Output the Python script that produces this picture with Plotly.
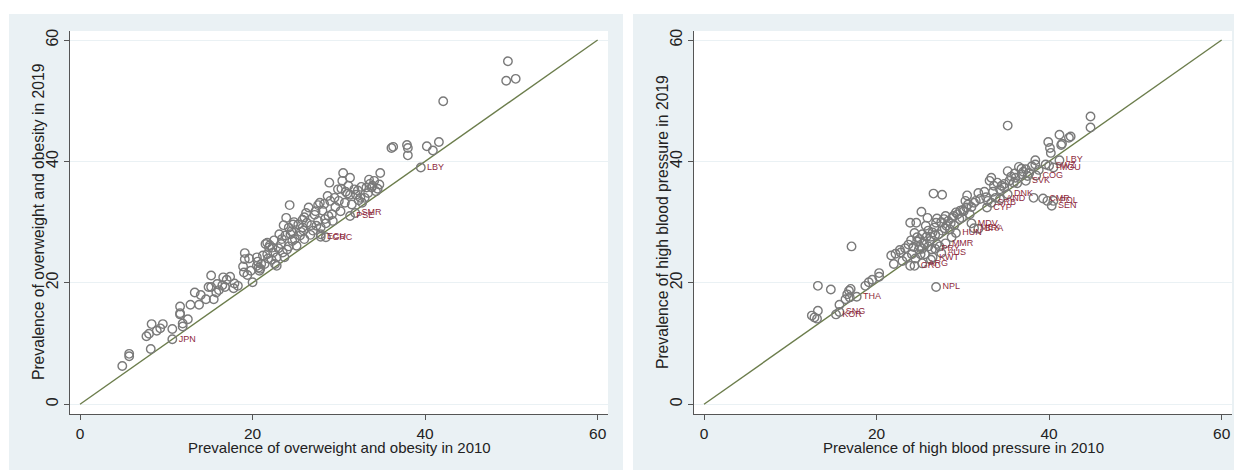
import plotly.graph_objects as go

# ---------------- data: left panel (overweight & obesity) ----------------
ow_2010 = [4.9, 5.7, 5.7, 7.7, 8.0, 8.3, 8.2, 8.9, 9.3, 9.6, 10.7, 11.6, 11.6, 11.6, 11.9, 11.9,
           12.8, 13.3, 13.8, 14.6, 15.2, 14.9, 15.2, 15.5, 15.9, 15.8, 16.1, 16.6, 16.5, 16.8,
           17.4, 17.8, 17.9, 18.9, 19.1, 19.1, 19.0, 19.4, 20.0, 20.5, 20.5, 20.7, 20.9, 21.0,
           21.4, 21.7, 21.7, 21.9, 22.3, 22.4, 22.6, 22.8, 22.8, 23.0, 23.3, 23.4, 23.7, 24.0,
           23.9, 24.3, 24.2, 24.4, 24.6, 24.7, 24.9, 25.1, 25.8, 25.8, 25.9, 26.0, 26.3, 26.5,
           27.0, 27.2, 27.4, 27.6, 27.6, 27.9, 27.9, 28.1, 28.4, 28.7, 28.9, 29.0, 29.2, 29.3,
           29.6, 29.9, 30.2, 30.5, 30.4, 30.7, 31.0, 31.3, 31.3, 31.5, 31.8, 32.0, 32.3, 32.5,
           32.7, 33.2, 33.4, 33.6, 33.8, 34.1, 34.7, 34.8, 34.3, 36.1, 36.3, 37.9, 38.0, 38.0,
           40.2, 40.9, 41.6, 42.1, 49.4, 49.6, 50.5,
           20.6, 20.8, 21.2, 22.0, 23.5, 24.5, 25.5, 26.0, 26.8, 27.3, 28.3, 28.8, 30.0, 30.8,
           32.2, 33.0, 33.9, 34.5, 22.2, 24.8, 18.3, 19.6, 21.5, 23.1,
           21.8, 22.5, 23.8, 24.2, 25.3, 26.2, 26.7, 27.8, 28.5, 29.5, 30.3, 31.1, 32.6, 33.5,
           19.8, 17.0, 14.0, 12.5, 23.6, 25.6]
ow_2019 = [6.3, 7.9, 8.3, 11.2, 11.6, 13.2, 9.1, 12.1, 12.5, 13.2, 12.4, 16.1, 15.0, 14.8, 13.3, 12.8,
           16.4, 18.4, 16.4, 17.3, 21.2, 19.3, 19.3, 17.3, 19.8, 18.4, 18.8, 20.9, 19.6, 19.3,
           21.0, 19.1, 19.9, 22.7, 24.9, 23.9, 21.7, 21.3, 20.1, 24.2, 22.8, 22.5, 22.3, 23.1,
           23.1, 26.6, 24.7, 25.8, 25.8, 25.0, 23.1, 22.8, 24.2, 25.7, 26.4, 27.2, 24.2, 25.5,
           30.7, 32.8, 29.1, 28.0, 26.9, 29.6, 27.2, 26.1, 30.4, 29.1, 28.6, 27.2, 29.9, 32.4,
           28.6, 31.2, 29.4, 32.8, 30.2, 28.0, 29.1, 31.9, 30.5, 34.3, 36.5, 33.5, 31.3, 30.2,
           32.5, 35.4, 31.8, 38.1, 36.8, 33.2, 34.7, 37.3, 34.5, 32.9, 35.4, 34.5, 33.6, 34.0,
           33.2, 35.7, 34.8, 36.3, 35.7, 36.8, 36.2, 38.1, 35.1, 42.2, 42.4, 42.7, 42.2, 41.0,
           42.5, 41.8, 43.2, 49.9, 53.3, 56.5, 53.6,
           23.5, 22.0, 24.5, 26.2, 25.0, 28.5, 27.8, 30.8, 29.5, 31.8, 33.0, 31.0, 33.5, 35.0,
           35.2, 34.0, 36.0, 35.5, 23.8, 30.0, 19.5, 24.0, 26.4, 28.0,
           24.0, 27.0, 27.8, 26.0, 29.6, 31.5, 27.9, 33.2, 29.8, 34.0, 35.5, 36.0, 35.8, 37.0,
           22.0, 20.5, 18.0, 14.0, 29.5, 28.4]
ow_lab = ["JPN", "LBY", "PSE", "SMR", "ECU", "GRC"]
ow_lab_2010 = [10.7, 39.5, 31.3, 31.9, 27.9, 28.5]
ow_lab_2019 = [10.7, 39.0, 31.0, 31.5, 27.6, 27.5]

# ---------------- data: right panel (high blood pressure) ----------------
bp_2010 = [12.5, 12.8, 13.1, 13.2, 13.2, 14.7, 15.7, 16.4, 16.6, 16.8, 17.0, 16.9, 17.1, 18.7, 19.1,
           20.3, 20.3, 21.7, 22.0, 22.7, 22.8, 23.0, 23.5, 23.9, 24.1, 23.9, 24.6, 24.3, 24.7, 24.7,
           24.9, 25.1, 25.2, 25.3, 25.5, 25.6, 25.9, 26.0, 26.2, 26.4, 26.6, 26.7, 26.8, 26.9, 27.0,
           27.6, 27.6, 27.8, 28.1, 28.3, 28.5, 28.8, 29.2, 29.4, 29.7, 29.9, 30.1, 30.5, 30.4, 30.6,
           30.8, 31.3, 31.5, 32.7, 32.9, 33.1, 33.3, 33.6, 33.8, 34.0, 34.3, 34.8, 35.2, 35.2, 35.4,
           35.9, 36.1, 36.5, 36.8, 37.3, 37.5, 37.7, 38.2, 38.0, 38.4, 38.4, 39.6, 39.8, 39.9, 40.1,
           40.2, 41.2, 41.4, 41.5, 42.3, 42.5, 44.8, 44.8,
           24.0, 25.0, 25.8, 26.5, 27.2, 27.5, 28.0, 29.0, 30.0, 31.0, 32.0, 32.5, 34.5, 35.6,
           36.3, 37.0, 26.0, 25.3, 24.5, 28.6, 22.2, 23.3, 19.5, 36.8,
           23.7, 24.4, 25.0, 25.7, 26.3, 27.0, 27.9, 28.9, 29.6, 30.3, 31.8, 33.5, 34.8, 36.0,
           38.8, 26.3, 27.3, 28.7]
bp_2019 = [14.6, 14.3, 14.1, 15.4, 19.5, 18.9, 16.4, 17.3, 18.1, 18.7, 19.0, 17.6, 26.0, 19.5, 20.1,
           21.6, 21.0, 24.5, 23.1, 25.4, 25.0, 23.6, 24.2, 22.8, 24.7, 29.9, 29.9, 25.9, 26.8, 27.5,
           25.5, 24.7, 31.7, 28.0, 26.5, 24.7, 30.7, 28.6, 26.9, 25.5, 34.7, 29.1, 27.9, 29.9, 26.4,
           34.5, 28.6, 30.5, 29.4, 30.2, 28.8, 30.7, 31.6, 31.3, 31.9, 30.7, 31.8, 34.4, 32.4, 32.9,
           31.3, 33.2, 33.5, 34.1, 33.5, 36.8, 37.3, 36.0, 34.0, 36.5, 35.4, 35.7, 38.4, 45.9, 36.8,
           36.5, 37.3, 39.1, 37.9, 38.7, 37.6, 38.1, 34.0, 39.2, 40.2, 39.5, 39.5, 33.5, 43.2, 42.2,
           41.4, 44.4, 42.7, 42.9, 43.9, 44.1, 47.4, 45.6,
           27.0, 27.2, 27.6, 28.3, 28.0, 30.0, 31.0, 29.5, 32.0, 32.5, 33.8, 35.0, 36.0, 37.5,
           36.4, 38.3, 26.0, 25.6, 24.0, 29.8, 24.8, 25.7, 20.5, 38.8,
           26.3, 28.2, 26.0, 29.4, 27.6, 30.6, 29.0, 31.0, 30.5, 33.5, 34.8, 35.0, 36.3, 38.0,
           38.6, 23.8, 26.0, 27.5]
bp_lab = ["KOR", "SNG", "THA", "NPL", "GRC", "ARG", "KWT", "AUS", "PRY", "MMR", "HUN", "MDV",
          "MEX", "BRA", "CYP", "SRB", "AND", "DNK", "SVK", "COG", "CMR", "POL", "SEN", "SWZ",
          "MOU", "LBY"]
bp_lab_2010 = [15.3, 15.7, 17.7, 26.9, 24.4, 25.3, 26.5, 27.5, 26.8, 28.0, 29.2, 31.0,
               31.3, 31.8, 32.8, 33.3, 34.3, 35.2, 37.3, 38.5, 39.3, 40.5, 40.3, 40.0,
               40.5, 41.2]
bp_lab_2019 = [14.8, 15.2, 17.7, 19.3, 22.8, 23.2, 24.2, 24.9, 25.6, 26.5, 28.2, 29.8,
               29.0, 28.9, 32.4, 33.2, 33.8, 34.6, 36.8, 37.7, 33.9, 33.5, 32.7, 39.3,
               39.0, 40.2]

diag = [0, 60]
ticks = [0, 20, 40, 60]

x_titles = ["Prevalence of overweight and obesity in 2010", "Prevalence of high blood pressure in 2010"]
y_titles = ["Prevalence of overweight and obesity in 2019", "Prevalence of high blood pressure in 2019"]

# ---------------- styling ----------------
OFF = 8                        # page offset of the figure (top/left body margin)
W, H = 1236 - OFF, 470 - OFF   # figure fills the rest of the 1236x470 window
FONT = "Liberation Sans, Arial, Helvetica, sans-serif"
GRAY = "#7a7a7a"
LAB = "#8e2b3d"
LINE = "#6c7d4c"
PANEL = "#eaf1f4"
AX = "#555555"
TXT = "#222222"


def px_x(p):
    return (p - OFF) / W


def px_y(p):
    return 1 - (p - OFF) / H


fig = go.Figure()

panels = [
    dict(xa="x", ya="y", x=ow_2010, y=ow_2019, lx=ow_lab_2010, ly=ow_lab_2019, lt=ow_lab),
    dict(xa="x2", ya="y2", x=bp_2010, y=bp_2019, lx=bp_lab_2010, ly=bp_lab_2019, lt=bp_lab),
]

for p in panels:
    fig.add_trace(go.Scatter(x=diag, y=diag, mode="lines", xaxis=p["xa"], yaxis=p["ya"],
                             line=dict(color=LINE, width=1.4), hoverinfo="skip", showlegend=False))
    fig.add_trace(go.Scatter(x=p["x"], y=p["y"], mode="markers", xaxis=p["xa"], yaxis=p["ya"],
                             marker=dict(symbol="circle-open", size=8.5, color=GRAY,
                                         line=dict(color=GRAY, width=1.4)),
                             showlegend=False))
    fig.add_trace(go.Scatter(x=p["lx"], y=p["ly"], mode="markers+text", xaxis=p["xa"], yaxis=p["ya"],
                             text=p["lt"], textposition="middle right",
                             textfont=dict(family=FONT, size=9, color=LAB),
                             marker=dict(symbol="circle-open", size=8.5, color=GRAY,
                                         line=dict(color=GRAY, width=1.4)),
                             showlegend=False))

# plot-area pixel geometry (page pixels)
plot_top, plot_bot = 29, 414
left_x0, left_x1 = 70, 608
right_x0, right_x1 = 694, 1232

xr = [-1.16, 61.2]
yr = [-1.65, 61.5]

common_x = dict(range=xr, tickvals=ticks, ticks="outside", ticklen=5, tickcolor=AX,
                showline=True, linecolor=AX, linewidth=1, showgrid=False, zeroline=False,
                tickfont=dict(family=FONT, size=15.5, color=TXT), fixedrange=True)
common_y = dict(range=yr, tickvals=ticks, ticks="outside", ticklen=5, tickcolor=AX,
                showline=True, linecolor=AX, linewidth=1, showgrid=True, gridcolor=PANEL,
                gridwidth=1, zeroline=False, tickangle=-90,
                tickfont=dict(family=FONT, size=16, color=TXT), fixedrange=True)

fig.update_layout(
    width=W, height=H,
    margin=dict(l=0, r=0, t=0, b=0),
    paper_bgcolor="white", plot_bgcolor="white",
    xaxis=dict(domain=[px_x(left_x0), px_x(left_x1)], anchor="y", **common_x),
    yaxis=dict(domain=[px_y(plot_bot), px_y(plot_top)], anchor="x", **common_y),
    xaxis2=dict(domain=[px_x(right_x0), px_x(right_x1)], anchor="y2", **common_x),
    yaxis2=dict(domain=[px_y(plot_bot), px_y(plot_top)], anchor="x2", **common_y),
    shapes=[
        dict(type="rect", xref="paper", yref="paper", x0=px_x(9), x1=px_x(623), y0=0, y1=px_y(12),
             fillcolor=PANEL, line=dict(width=0), layer="below"),
        dict(type="rect", xref="paper", yref="paper", x0=px_x(633), x1=px_x(1234), y0=0, y1=px_y(12),
             fillcolor=PANEL, line=dict(width=0), layer="below"),
        dict(type="rect", xref="paper", yref="paper", x0=px_x(left_x0), x1=px_x(left_x1),
             y0=px_y(plot_bot), y1=px_y(plot_top), fillcolor="white", line=dict(width=0), layer="below"),
        dict(type="rect", xref="paper", yref="paper", x0=px_x(right_x0), x1=px_x(right_x1),
             y0=px_y(plot_bot), y1=px_y(plot_top), fillcolor="white", line=dict(width=0), layer="below"),
    ],
)

anns = []
for i, (cx, ytx) in enumerate([(339, 38), (963, 662)]):
    anns.append(dict(text=x_titles[i], xref="paper", yref="paper", x=px_x(cx), y=px_y(447),
                     xanchor="center", yanchor="middle", showarrow=False,
                     font=dict(family=FONT, size=15, color=TXT)))
    anns.append(dict(text=y_titles[i], xref="paper", yref="paper", x=px_x(ytx), y=px_y(221),
                     xanchor="center", yanchor="middle", showarrow=False, textangle=-90,
                     font=dict(family=FONT, size=15.7, color=TXT)))
fig.update_layout(annotations=anns)

fig.write_html(
    "out.html",
    post_script=("document.body.style.margin='8px 0 0 8px';"
                 "document.documentElement.style.overflow='hidden';"),
)
